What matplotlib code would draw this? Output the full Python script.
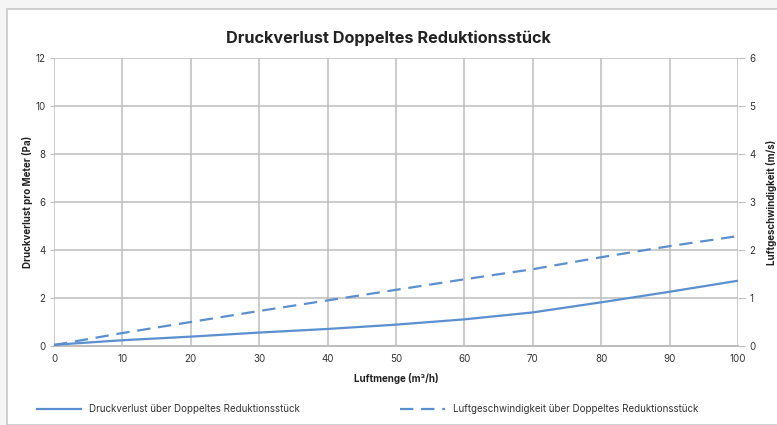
import matplotlib
matplotlib.use("Agg")
import matplotlib.pyplot as plt
from matplotlib.patches import Rectangle

plt.rcParams["font.family"] = ["Inter", "DejaVu Sans"]

# data
airflow = [0, 10, 20, 30, 40, 50, 60, 70, 80, 90, 100]
pressure = [0.05, 0.24, 0.39, 0.56, 0.71, 0.89, 1.11, 1.40, 1.82, 2.26, 2.72]
velocity = [0.02, 0.27, 0.50, 0.73, 0.95, 1.17, 1.39, 1.60, 1.85, 2.08, 2.29]

title = "Druckverlust Doppeltes Reduktionsstück"
label_p = "Druckverlust über Doppeltes Reduktionsstück"
label_v = "Luftgeschwindigkeit über Doppeltes Reduktionsstück"

blue = "#5b8fcf"
grid = "#bdbdbd"
txt = "#333333"

fig = plt.figure(figsize=(7.77, 4.25), dpi=100)
fig.patch.set_facecolor("#f5f5f5")
# white card behind the chart
fig.patches.append(Rectangle((7 / 777, 0), 1, 1 - 9 / 425, transform=fig.transFigure,
                             facecolor="white", edgecolor="#c8c8c8", lw=1.2, zorder=-5))

ax = fig.add_axes([54 / 777, 79 / 425, 684 / 777, 288 / 425])
ax2 = ax.twinx()
ax.patch.set_alpha(0)
ax2.patch.set_alpha(0)

l1, = ax.plot(airflow, pressure, color=blue, lw=1.6, label=label_p, zorder=3)
l2, = ax2.plot(airflow, velocity, color=blue, lw=1.6, ls=(0, (6, 3.5)), label=label_v)

ax.set_xlim(0, 100)
ax.set_ylim(0, 12)
ax2.set_ylim(0, 6)
ax.set_xticks(range(0, 101, 10))
ax.set_yticks(range(0, 13, 2))
ax2.set_yticks(range(0, 7))

ax.grid(True, color=grid, lw=1.1)
ax.set_axisbelow(True)
for a in (ax, ax2):
    for s in a.spines.values():
        s.set_visible(False)
ax.spines["bottom"].set_visible(True)
ax.spines["bottom"].set_color(grid)
ax.spines["bottom"].set_linewidth(1.4)

ax.tick_params(axis="x", length=0, pad=6, labelsize=7, labelcolor=txt)
ax.tick_params(axis="y", length=3, color=grid, pad=3, labelsize=7, labelcolor=txt)
ax2.tick_params(axis="y", length=5, color=grid, pad=3, labelsize=7, labelcolor=txt)

ax.set_xlabel("Luftmenge (m³/h)", fontsize=7, fontweight="bold", color="#222222", labelpad=6)
ax.set_ylabel("Druckverlust pro Meter (Pa)", fontsize=7, fontweight="bold", color="#222222", labelpad=2)
ax2.set_ylabel("Luftgeschwindigkeit (m/s)", fontsize=7, fontweight="bold", color="#222222",
               rotation=90, labelpad=8)

fig.text(0.5, 1 - 38 / 425, title, ha="center", va="center", fontsize=11.7,
         fontweight="bold", color="#222222")

fig.legend(handles=[l1, l2], loc="center left", bbox_to_anchor=(28 / 777, 1 - 409 / 425),
           ncol=2, frameon=False, fontsize=7, handlelength=4.6, columnspacing=10.3,
           handletextpad=0.8, labelcolor=txt)

fig.savefig("out.png", dpi=100, facecolor=fig.get_facecolor())
